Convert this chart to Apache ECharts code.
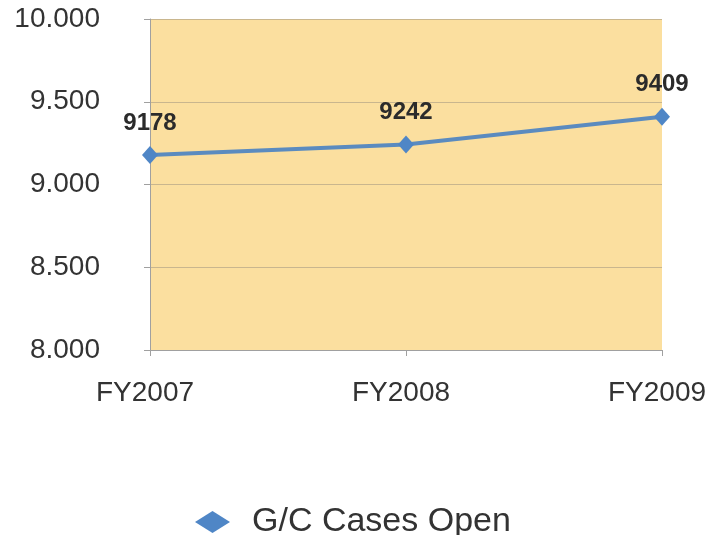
<!DOCTYPE html>
<html>
<head>
<meta charset="utf-8">
<script src="https://cdn.jsdelivr.net/npm/echarts@6/dist/echarts.min.js"></script>
<style>
html, body { margin: 0; padding: 0; background: #fff; }
#chart { width: 707px; height: 535px; }
</style>
</head>
<body>
<div id="chart"></div>
<script>
var categories = ['FY2007', 'FY2008', 'FY2009'];
var casesOpen = [9178, 9242, 9409];
var seriesName = 'G/C Cases Open';

var chart = {
	init: function(){
		var myChart = echarts.init(document.getElementById('chart'));
		myChart.setOption(chart.getOption());
	},
	// 10000 -> "10.000"
	fmtThousands: function(v){
		var rest = String(v % 1000);
		while (rest.length < 3) rest = '0' + rest;
		return Math.floor(v / 1000) + '.' + rest;
	},
	getOption: function(){
		var font = 'Liberation Sans, Arial, sans-serif';
		return {
			animation: false,
			grid: {
				left: 150, right: 45, top: 19, bottom: 185,
				outerBoundsMode: 'none',
				containLabel: false,
				show: true,
				backgroundColor: '#fbdf9f',
				borderWidth: 0
			},
			legend: {
				left: 190,
				top: 500,
				itemWidth: 35,
				itemHeight: 22,
				textStyle: { fontSize: 34, color: '#333', fontFamily: font, padding: [0, 0, 0, 17] },
				data: [{ name: seriesName, icon: 'diamond' }]
			},
			xAxis: {
				type: 'category',
				data: categories,
				boundaryGap: false,
				axisLine: { lineStyle: { color: '#a0a0a0', width: 1 } },
				axisTick: { show: true, alignWithLabel: true, length: 6, lineStyle: { color: '#a0a0a0' } },
				axisLabel: { fontSize: 28, color: '#333', margin: 29, fontFamily: font, padding: [0, 10, 0, 0] },
				splitLine: { show: false }
			},
			yAxis: {
				type: 'value',
				min: 8000,
				max: 10000,
				interval: 500,
				axisLine: { show: true, lineStyle: { color: '#a0a0a0', width: 1 } },
				axisTick: { show: true, length: 6, lineStyle: { color: '#a0a0a0' } },
				axisLabel: {
					fontSize: 28, color: '#333', margin: 50, fontFamily: font,
					formatter: chart.fmtThousands
				},
				splitLine: { lineStyle: { color: '#c9b68e', width: 1 } }
			},
			series: [{
				name: seriesName,
				type: 'line',
				data: casesOpen,
				symbol: 'diamond',
				symbolSize: [16, 18],
				color: '#4f86c6',
				lineStyle: { width: 4, color: '#5b8bbf' },
				itemStyle: { color: '#4f86c6' },
				label: {
					show: true,
					position: 'top',
					distance: 11,
					fontSize: 24,
					fontWeight: 'bold',
					color: '#2b2b2b',
					fontFamily: font
				}
			}]
		};
	}
};

chart.init();
</script>
</body>
</html>
